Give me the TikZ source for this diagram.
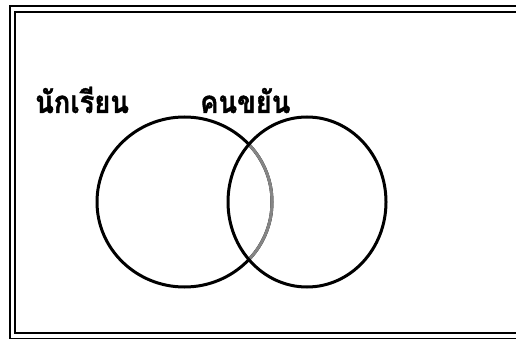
\documentclass[tikz,border=0pt]{standalone}
\usepackage{fontspec}
\usepackage{tikz}
\usetikzlibrary{calc}
\newfontfamily\thaifont[Script=Thai,FakeStretch=0.88,FakeBold=1.2]{Loma}
\definecolor{INK}{HTML}{000000}
\definecolor{GREYARC}{HTML}{858585}
\definecolor{PAPER}{HTML}{FFFFFF}
\begin{document}
\begin{tikzpicture}[x=1pt,y=-1pt]
\tikzset{frameline/.style={line width=2.6pt,INK},setline/.style={line width=3pt,INK},
 lbl/.style={anchor=base west,inner sep=0pt,font=\thaifont\bfseries\fontsize{31}{33}\selectfont}}
\useasboundingbox (0,0) rectangle (516,339);
\clip (0,0) rectangle (516,339);
\fill[PAPER] (0,0) rectangle (516,339);
% double frame
\draw[frameline] (10,6) rectangle (540,339.5);
\draw[frameline] (15,12) rectangle (530,333);
% the two sets
\coordinate (stu) at (184.5,202);\coordinate (dil) at (307,202);
\draw[setline] (stu) ellipse [x radius=87.5,y radius=85];
\begin{scope}\clip (dil) ellipse [x radius=79,y radius=85];
\draw[setline,GREYARC] (stu) ellipse [x radius=87.5,y radius=85];\end{scope}
\draw[setline] (dil) ellipse [x radius=79,y radius=85];
\node[lbl] (lstu) at (35,113) {นักเรียน};
\node[lbl] (ldil) at (200,113) {คนขยัน};
\end{tikzpicture}
\end{document}
